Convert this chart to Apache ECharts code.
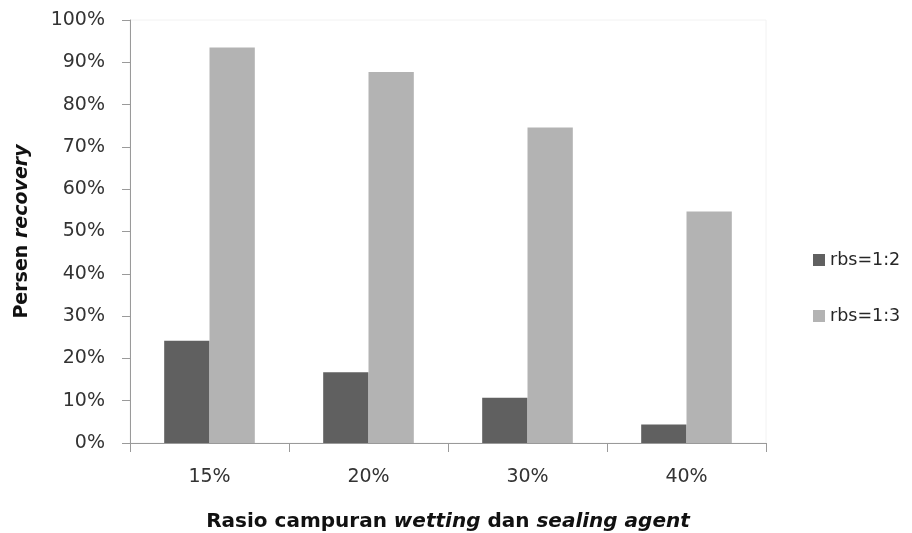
<!DOCTYPE html>
<html>
<head>
<meta charset="utf-8">
<script src="https://cdn.jsdelivr.net/npm/echarts@6/dist/echarts.min.js"></script>
<style>
  html, body { margin: 0; padding: 0; background: #fff; }
  #chart { width: 912px; height: 533px; }
</style>
</head>
<body>
<div id="chart"></div>
<script>
// Mixing ratio of wetting and sealing agent (x-axis categories)
const categories = ['15%', '20%', '30%', '40%'];
// Recovery percentage per rbs ratio
const seriesNames = ['rbs=1:2', 'rbs=1:3'];
const rbs12 = [24.2, 16.7, 10.7, 4.4];
const rbs13 = [93.5, 87.7, 74.6, 54.7];

const FONT = '"DejaVu Sans", sans-serif';
function titleRich(size) {
  return {
    b: { fontFamily: FONT, fontSize: size, fontWeight: 'bold', color: '#111' },
    bi: { fontFamily: FONT, fontSize: size, fontWeight: 'bold', fontStyle: 'italic', color: '#111' }
  };
}
const chart = echarts.init(document.getElementById('chart'));

chart.setOption({
  animation: false,
  backgroundColor: '#ffffff',
  textStyle: { fontFamily: FONT },
  grid: {
    left: 130, right: 146, top: 20, bottom: 90,
    outerBoundsMode: 'none',
    containLabel: false,
    show: true, borderColor: '#f2f2f2', borderWidth: 1
  },
  legend: {
    orient: 'vertical',
    left: 808, top: 246,
    itemWidth: 12, itemHeight: 12, itemGap: 38,
    icon: 'rect',
    textStyle: { fontFamily: FONT, fontSize: 17.5, color: '#262626' },
    data: seriesNames
  },
  xAxis: {
    type: 'category',
    data: categories,
    axisLine: { show: true, lineStyle: { color: '#9a9a9a', width: 1 } },
    axisTick: { show: true, length: 9, alignWithLabel: false, lineStyle: { color: '#9a9a9a' } },
    axisLabel: { fontFamily: FONT, fontSize: 19, color: '#333', margin: 25 },
    name: '{b|Rasio campuran }{bi|wetting}{b| dan }{bi|sealing agent}',
    nameLocation: 'middle',
    nameGap: 69,
    nameMoveOverlap: false,
    nameTextStyle: { rich: titleRich(20) }
  },
  yAxis: {
    type: 'value',
    min: 0, max: 100, interval: 10,
    axisLine: { show: true, lineStyle: { color: '#9a9a9a', width: 1 } },
    axisTick: { show: true, length: 8, lineStyle: { color: '#9a9a9a' } },
    splitLine: { show: false },
    axisLabel: { fontFamily: FONT, fontSize: 19, color: '#333', margin: 25, formatter: '{value}%' },
    name: '{b|Persen }{bi|recovery}',
    nameLocation: 'middle',
    nameRotate: 90,
    nameGap: 98,
    nameMoveOverlap: false,
    nameTextStyle: { rich: titleRich(19) }
  },
  series: [
    {
      name: seriesNames[0],
      type: 'bar',
      data: rbs12,
      barGap: '0%',
      barCategoryGap: '43%',
      itemStyle: { color: '#606060' }
    },
    {
      name: seriesNames[1],
      type: 'bar',
      data: rbs13,
      barGap: '0%',
      barCategoryGap: '43%',
      itemStyle: { color: '#b3b3b3' }
    }
  ]
});
</script>
</body>
</html>
